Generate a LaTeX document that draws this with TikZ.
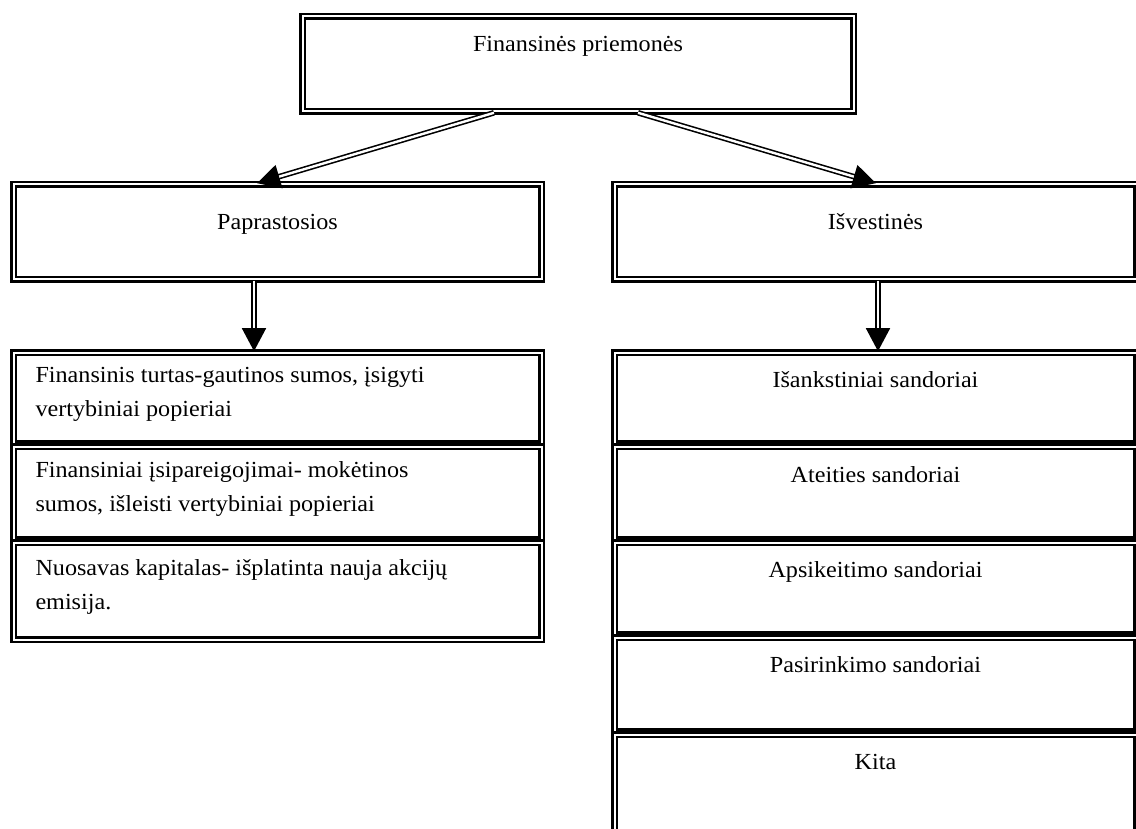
\documentclass[tikz,border=0pt]{standalone}
\usepackage{fontspec}
\setmainfont{Liberation Serif}[FakeStretch=1.05]
\usetikzlibrary{arrows.meta}
\newcommand\ccell[4]{\begin{minipage}[c][#2pt][t]{#1pt}\centering\rule{0pt}{#3pt}#4\end{minipage}}
\newcommand\lcell[4]{\begin{minipage}[c][#2pt][t]{#1pt}\raggedright\leftskip=22pt\rule{0pt}{#3pt}#4\end{minipage}}
\tikzset{
  box/.style={draw, double=white, line width=2.6pt, double distance=2pt, inner sep=0pt,
    font=\fontsize{23pt}{34pt}\selectfont},
  arr/.style={draw, double=white, line width=1.6pt, double distance=2.4pt,
    -{Triangle[length=23pt,width=24pt]}}
}
\begin{document}
\begin{tikzpicture}[x=1pt,y=-1pt]
\useasboundingbox (0,0) rectangle (1136,829);
\clip (0,0) rectangle (1136,829);
% top
\node[box] (top) at (578,64) {\ccell{551}{95}{35}{Finansinės priemonės}};
\node[box] (pap) at (277.5,232) {\ccell{528}{95}{45}{Paprastosios}};
\node[box] (isv) at (875.5,232) {\ccell{522}{95}{45}{Išvestinės}};
% left list
\node[box] (l1) at (277.5,398) {\lcell{528}{91}{30}{Finansinis turtas-gautinos sumos, įsigyti\\vertybiniai popieriai}};
\node[box] (l2) at (277.5,493) {\lcell{528}{93}{31}{Finansiniai įsipareigojimai- mokėtinos\\sumos, išleisti vertybiniai popieriai}};
\node[box] (l3) at (277.5,591) {\lcell{528}{97}{33}{Nuosavas kapitalas- išplatinta nauja akcijų\\emisija.}};
% right list
\node[box] (r1) at (875.5,398) {\ccell{522}{91}{35}{Išankstiniai sandoriai}};
\node[box] (r2) at (875.5,493) {\ccell{522}{93}{36}{Ateities sandoriai}};
\node[box] (r3) at (875.5,588.5) {\ccell{522}{92}{35}{Apsikeitimo sandoriai}};
\node[box] (r4) at (875.5,684.5) {\ccell{522}{94}{35}{Pasirinkimo sandoriai}};
\node[box] (r5) at (875.5,788) {\ccell{522}{107}{35}{Kita}};
% arrows
\draw[arr] ([xshift=-84pt]top.south) -- ([xshift=-20.5pt]pap.north);
\draw[arr] ([xshift=60pt]top.south) -- ([xshift=0.5pt]isv.north);
\draw[arr] ([xshift=-23.5pt]pap.south) -- ([xshift=-23.5pt]l1.north);
\draw[arr] ([xshift=2.5pt]isv.south) -- ([xshift=2.5pt]r1.north);
\end{tikzpicture}
\end{document}
